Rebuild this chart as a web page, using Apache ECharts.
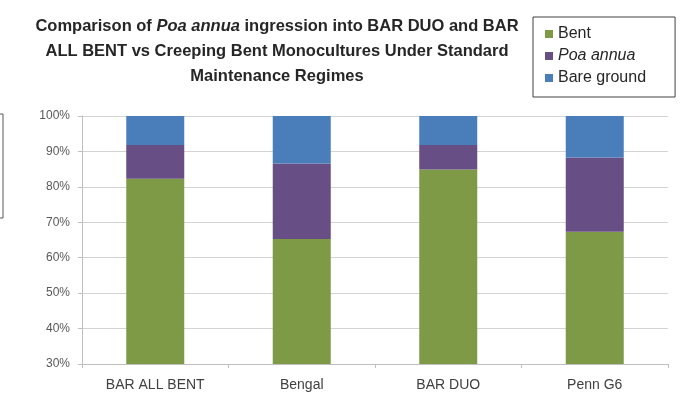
<!DOCTYPE html>
<html>
<head>
<meta charset="utf-8">
<script src="https://cdn.jsdelivr.net/npm/echarts@6/dist/echarts.min.js"></script>
<style>
  html, body { margin: 0; padding: 0; background: #fff; }
  #main_charts { width: 682px; height: 405px; }
</style>
</head>
<body>
<div id="main_charts"></div>
<script>
// chart data
var categories = ['BAR ALL BENT', 'Bengal', 'BAR DUO', 'Penn G6'];
var bent = [82.3, 65.3, 84.9, 67.3];
var poaAnnua = [9.5, 21.3, 6.9, 21.0];
var bareGround = [8.2, 13.4, 8.2, 11.7];
var yTicks = [30, 40, 50, 60, 70, 80, 90, 100];

var font = '"Liberation Sans", Arial, sans-serif';

var myChart = echarts.init(document.getElementById('main_charts'));

var option = {
    animation: false,
    textStyle: { fontFamily: font },
    title: {
        text: '{b|Comparison of }{bi|Poa annua}{b| ingression into BAR DUO and BAR}\n' +
              '{b|ALL BENT vs Creeping Bent Monocultures Under Standard}\n' +
              '{b|Maintenance Regimes}',
        left: 272,
        top: 9,
        textAlign: 'center',
        textStyle: {
            fontFamily: font,
            lineHeight: 25,
            rich: {
                b: { fontSize: 16.5, fontWeight: 'bold', color: '#262626', fontFamily: font, lineHeight: 25 },
                bi: { fontSize: 16.5, fontWeight: 'bold', fontStyle: 'italic', color: '#262626', fontFamily: font, lineHeight: 25 }
            }
        }
    },
    legend: {
        orient: 'vertical',
        left: 533,
        top: 17,
        padding: [9, 29, 11, 12],
        borderColor: '#404040',
        borderWidth: 1,
        itemWidth: 8,
        itemHeight: 8,
        itemGap: 6,
        icon: 'rect',
        data: ['Bent', 'Poa annua', 'Bare ground'],
        formatter: function (name) {
            return name === 'Poa annua' ? '{i|' + name + '}' : name;
        },
        textStyle: {
            fontSize: 16,
            color: '#262626',
            fontFamily: font,
            rich: {
                i: { fontSize: 16, fontStyle: 'italic', color: '#262626', fontFamily: font }
            }
        }
    },
    grid: { left: 82, right: 14, top: 116, bottom: 41 },
    xAxis: {
        type: 'category',
        data: categories,
        axisLine: { lineStyle: { color: '#bfbfbf' } },
        axisTick: { show: true, length: 4, lineStyle: { color: '#bfbfbf' } },
        axisLabel: { fontSize: 14, color: '#404040', margin: 14, fontFamily: font }
    },
    yAxis: {
        type: 'value',
        min: yTicks[0],
        max: yTicks[yTicks.length - 1],
        interval: 10,
        axisLine: { show: true, lineStyle: { color: '#bfbfbf' } },
        axisTick: { show: true, length: 4, lineStyle: { color: '#bfbfbf' } },
        splitLine: { lineStyle: { color: '#d4d4d4' } },
        axisLabel: { formatter: '{value}%', fontSize: 12, color: '#595959', margin: 12, fontFamily: font }
    },
    series: [
        { name: 'Bent', type: 'bar', stack: 'all', data: bent, barWidth: 58, itemStyle: { color: '#7e9a46' } },
        { name: 'Poa annua', type: 'bar', stack: 'all', data: poaAnnua, itemStyle: { color: '#674e84' } },
        { name: 'Bare ground', type: 'bar', stack: 'all', data: bareGround, itemStyle: { color: '#4a7ebb' } }
    ],
    graphic: [
        // edge of a neighbouring box cut off at the left of the picture
        { type: 'rect', shape: { x: -10, y: 114, width: 13, height: 104 }, style: { fill: 'none', stroke: '#595959', lineWidth: 1 } }
    ]
};
myChart.setOption(option);
</script>
</body>
</html>
